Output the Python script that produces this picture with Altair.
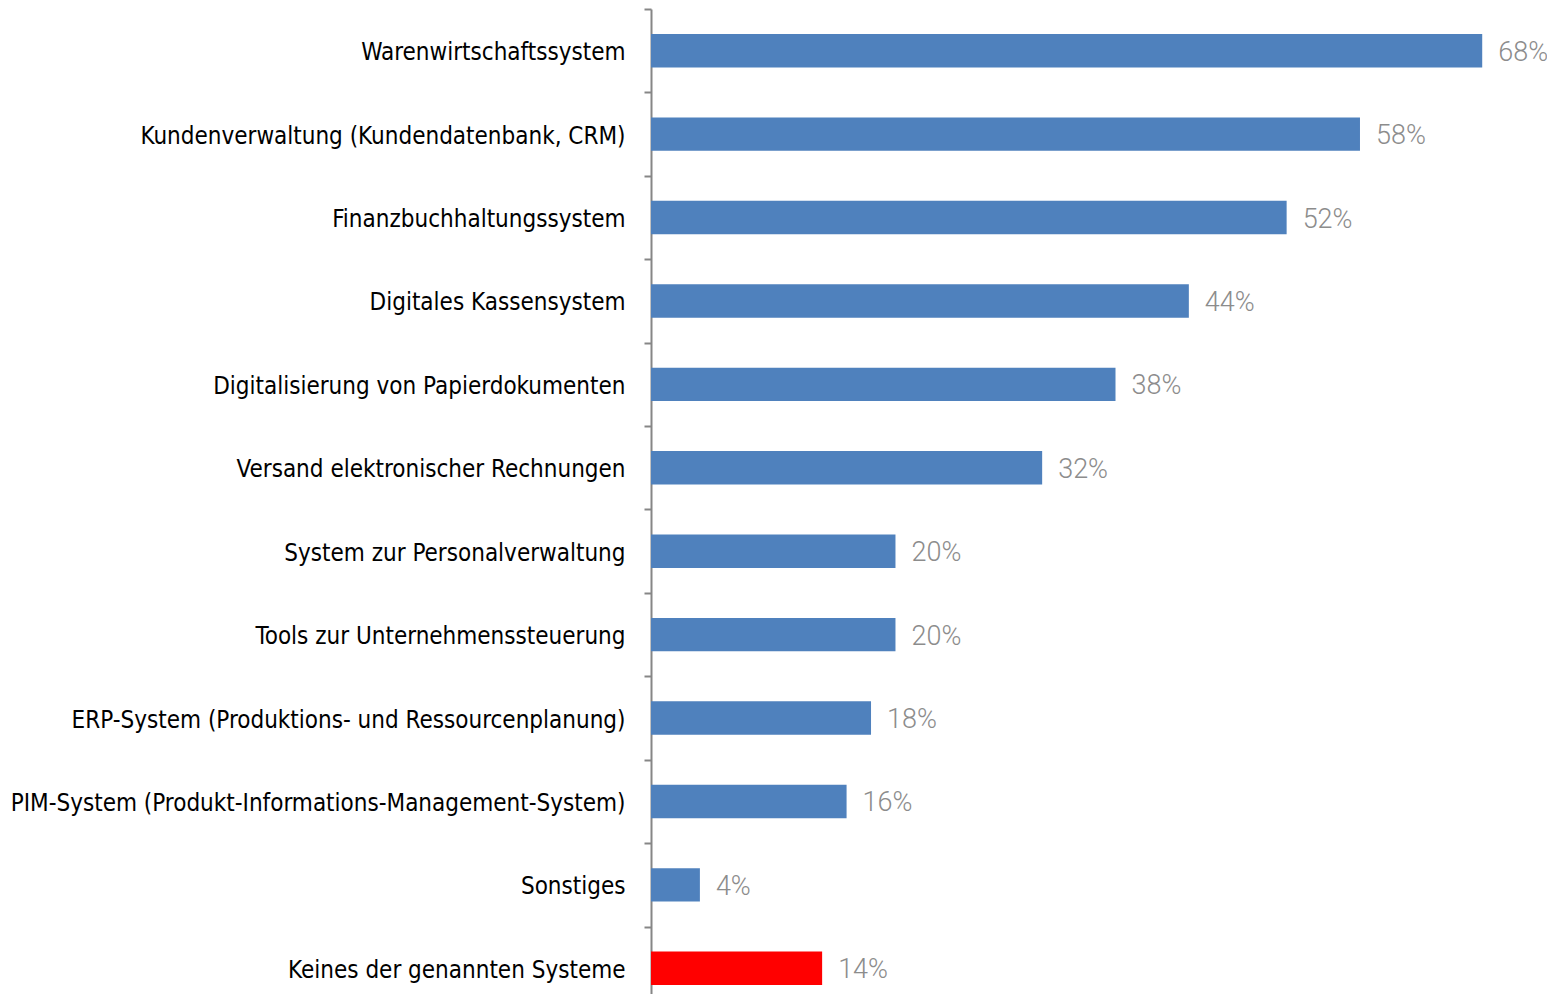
import altair as alt
import pandas as pd

categories = [
    "Warenwirtschaftssystem",
    "Kundenverwaltung (Kundendatenbank, CRM)",
    "Finanzbuchhaltungssystem",
    "Digitales Kassensystem",
    "Digitalisierung von Papierdokumenten",
    "Versand elektronischer Rechnungen",
    "System zur Personalverwaltung",
    "Tools zur Unternehmenssteuerung",
    "ERP-System (Produktions- und Ressourcenplanung)",
    "PIM-System (Produkt-Informations-Management-System)",
    "Sonstiges",
    "Keines der genannten Systeme",
]
values = [68, 58, 52, 44, 38, 32, 20, 20, 18, 16, 4, 14]
highlight = [False] * 11 + [True]

df = pd.DataFrame({
    "cat": categories,
    "val": values,
    "hl": highlight,
    "label": [f"{v}%" for v in values],
})

half_step = 1001 / 12 / 2

y_enc = alt.Y(
    "cat:N",
    sort=categories,
    title=None,
    scale=alt.Scale(paddingInner=0.6, paddingOuter=0.3, range=[0, 1001]),
    axis=alt.Axis(
        tickOffset=-half_step,
        labelOffset=half_step + 2,
        tickSize=7,
        tickColor="#868686",
        tickWidth=2,
        domainColor="#868686",
        domainWidth=2,
        labelFont="DejaVu Sans Condensed, Roboto, sans-serif",
        labelFontSize=24,
        labelColor="#000000",
        labelPadding=19,
        labelLimit=700,
    ),
)
x_enc = alt.X(
    "val:Q",
    scale=alt.Scale(domain=[0, 73.3], nice=False),
    axis=None,
)

bars = alt.Chart(df).mark_bar().encode(
    x=x_enc,
    y=y_enc,
    color=alt.Color(
        "hl:N",
        scale=alt.Scale(domain=[False, True], range=["#4F81BD", "#FF0000"]),
        legend=None,
    ),
)

texts = alt.Chart(df).mark_text(
    align="left",
    baseline="middle",
    dx=16,
    dy=2,
    font="Roboto",
    fontWeight=300,
    fontSize=27,
    color="#8c8c8c",
).encode(
    x=x_enc,
    y=alt.Y("cat:N", sort=categories),
    text="label:N",
)

chart = (
    alt.layer(bars, texts)
    .properties(
        width=896,
        height=985,
        autosize=alt.AutoSizeParams(type="none"),
        padding={"left": 643, "top": 1, "right": 0, "bottom": 0},
    )
    .configure_view(stroke=None)
)

chart.save("out.html", embed_options={"renderer": "svg", "actions": False})
